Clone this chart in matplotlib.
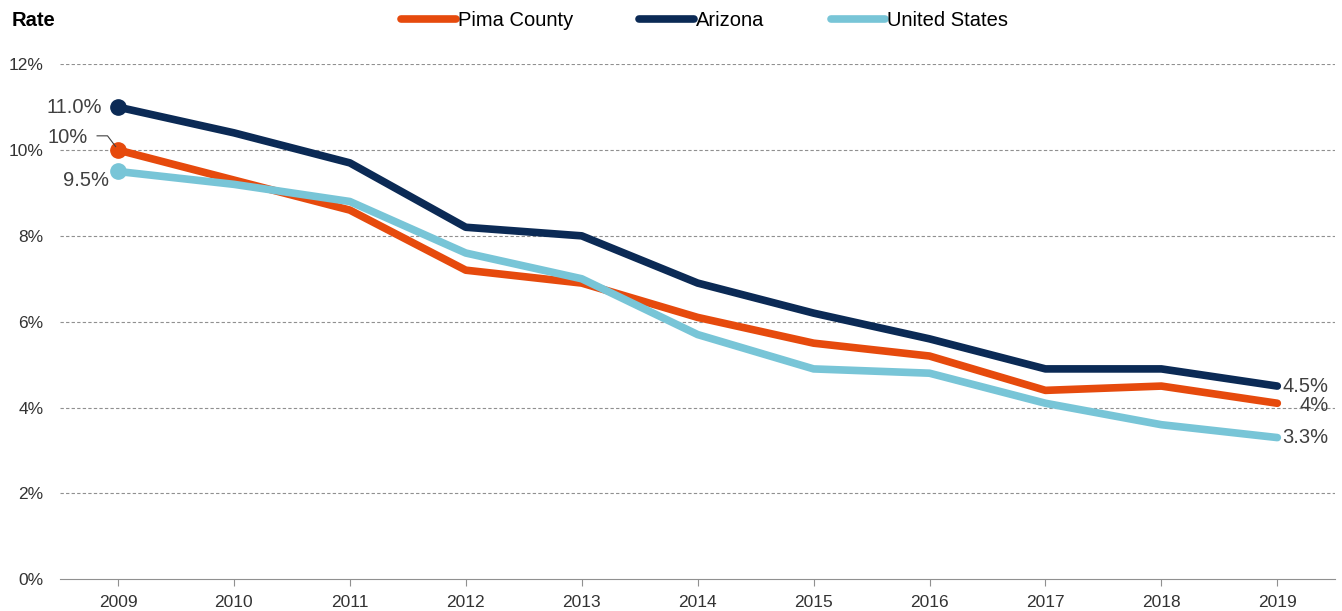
import matplotlib.pyplot as plt
import numpy as np

plt.rcParams['font.family'] = ['Liberation Sans', 'DejaVu Sans']

years = ['2009', '2010', '2011', '2012', '2013', '2014', '2015', '2016', '2017', '2018', '2019']
pima = [10.0, 9.3, 8.6, 7.2, 6.9, 6.1, 5.5, 5.2, 4.4, 4.5, 4.1]
arizona = [11.0, 10.4, 9.7, 8.2, 8.0, 6.9, 6.2, 5.6, 4.9, 4.9, 4.5]
us = [9.5, 9.2, 8.8, 7.6, 7.0, 5.7, 4.9, 4.8, 4.1, 3.6, 3.3]
series_names = ['Pima County', 'Arizona', 'United States']
colors = ['#E64A0D', '#0B2A55', '#78C5D7']

fig = plt.figure(figsize=(13.42, 6.11), dpi=100)
ax = fig.add_axes([0.0447, 0.052, 0.9503, 0.843])
x = np.arange(len(years))

lines = []
for vals, name, c in zip([pima, arizona, us], series_names, colors):
    ln, = ax.plot(x, vals, color=c, lw=5.5, solid_capstyle='round', solid_joinstyle='round', label=name)
    ax.plot(x[0], vals[0], 'o', color=c, ms=11)
    lines.append(ln)

tc = '#404040'
fs = 14.5
# start labels
ax.text(x[0] - 0.14, arizona[0], '11.0%', ha='right', va='center', fontsize=fs, color=tc)
ax.text(x[0] - 0.26, pima[0] + 0.3, '10%', ha='right', va='center', fontsize=fs, color=tc)
ax.plot([x[0] - 0.18, x[0] - 0.09, x[0] - 0.02], [pima[0] + 0.33, pima[0] + 0.33, pima[0] + 0.08], color='#404040', lw=0.8)
ax.text(x[0] - 0.08, us[0] - 0.22, '9.5%', ha='right', va='center', fontsize=fs, color=tc)
# end labels
ax.text(x[-1] + 0.44, arizona[-1], '4.5%', ha='right', va='center', fontsize=fs, color=tc)
ax.text(x[-1] + 0.44, pima[-1] - 0.05, '4%', ha='right', va='center', fontsize=fs, color=tc)
ax.text(x[-1] + 0.44, us[-1], '3.3%', ha='right', va='center', fontsize=fs, color=tc)

ax.set_xlim(-0.5, len(years) - 0.5)
ax.set_ylim(0, 12)
ax.set_xticks(x)
ax.set_xticklabels(years)
ax.set_yticks(range(0, 13, 2))
ax.set_yticklabels([f'{v}%' for v in range(0, 13, 2)])
for v in range(2, 13, 2):
    ax.axhline(v, color='#909090', lw=0.8, ls=(0, (3, 2)), zorder=0)

for s in ['top', 'right', 'left']:
    ax.spines[s].set_visible(False)
ax.spines['bottom'].set_color('#909090')
ax.tick_params(axis='y', length=0, labelsize=12.5, labelcolor='#333333', pad=12)
ax.tick_params(axis='x', length=5, color='#909090', labelsize=12.5, labelcolor='#333333', pad=6)

fig.text(0.009, 0.967, 'Rate', fontsize=14.5, fontweight='bold', ha='left', va='center')
fig.legend(handles=lines, loc='center', bbox_to_anchor=(0.525, 0.967), ncol=3, frameon=False,
           fontsize=14.5, handlelength=2.7, handletextpad=0.1, columnspacing=3.3)

fig.savefig('out.png', dpi=100)
